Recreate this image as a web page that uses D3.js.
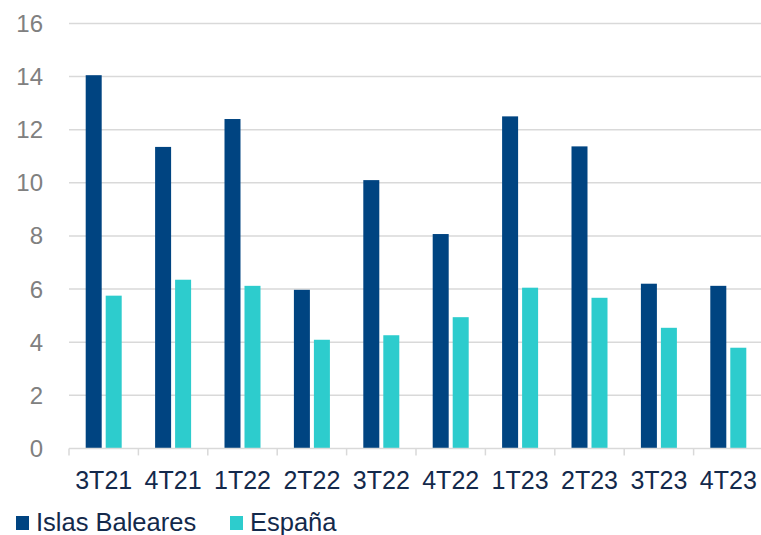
<html>
<head>
<meta charset="utf-8">
<script src="https://cdn.jsdelivr.net/npm/d3@7"></script>
<style>
  body { margin: 0; background: #fff; }
  text { font-family: "Liberation Sans", Arial, sans-serif; }
</style>
</head>
<body>
<div class="chart"></div>
<script>
var categories = ['3T21', '4T21', '1T22', '2T22', '3T22', '4T22', '1T23', '2T23', '3T23', '4T23'];
var series = ['Islas Baleares', 'España'];
var baleares = [14.05, 11.35, 12.4, 5.97, 10.1, 8.07, 12.5, 11.37, 6.2, 6.12];
var espana = [5.75, 6.35, 6.12, 4.09, 4.26, 4.94, 6.05, 5.67, 4.54, 3.79];
var yTicks = [0, 2, 4, 6, 8, 10, 12, 14, 16];
var colors = ['#004481', '#2dcccd'];

var w = 761, h = 535;
var padLeft = 69, padRight = 763, plotTop = 23.4, plotBottom = 448.4;

var svg = d3.select('div.chart').append('svg')
    .attr('width', w)
    .attr('height', h);

var x = d3.scaleBand()
    .domain(categories)
    .range([padLeft, padRight])
    .padding(0);

var xs = d3.scaleBand()
    .domain(series)
    .range([0, x.bandwidth()])
    .paddingInner(0.2)
    .paddingOuter(0.835);

var y = d3.scaleLinear()
    .domain([0, 16])
    .range([plotBottom, plotTop]);

// gridlines
svg.selectAll('line.grid')
    .data(yTicks.slice(1))
    .enter()
    .append('line')
    .attr('class', 'grid')
    .attr('x1', padLeft)
    .attr('x2', w)
    .attr('y1', function(d) { return y(d); })
    .attr('y2', function(d) { return y(d); })
    .attr('stroke', '#d9d9d9')
    .attr('stroke-width', 1.5);

// y labels
svg.selectAll('text.ylab')
    .data(yTicks)
    .enter()
    .append('text')
    .attr('class', 'ylab')
    .attr('x', 43)
    .attr('y', function(d) { return y(d) + 8.5; })
    .attr('text-anchor', 'end')
    .style('font-size', '24px')
    .style('fill', '#808080')
    .text(function(d) { return d; });

// bars
var rows = categories.map(function(c, i) {
    return { cat: c, vals: [baleares[i], espana[i]] };
});

var groups = svg.selectAll('g.cat')
    .data(rows)
    .enter()
    .append('g')
    .attr('class', 'cat')
    .attr('transform', function(d) { return 'translate(' + x(d.cat) + ',0)'; });

groups.selectAll('rect')
    .data(function(d) {
        return d.vals.map(function(v, j) { return { s: series[j], v: v, j: j }; });
    })
    .enter()
    .append('rect')
    .attr('x', function(d) { return xs(d.s); })
    .attr('width', xs.bandwidth())
    .attr('y', function(d) { return y(d.v); })
    .attr('height', function(d) { return y(0) - y(d.v); })
    .attr('fill', function(d) { return colors[d.j]; });

// x axis
var xAxis = d3.axisBottom(x).tickSize(0).tickPadding(0);
var gx = svg.append('g')
    .attr('transform', 'translate(0,' + plotBottom + ')')
    .call(xAxis);
gx.select('.domain').remove();
gx.selectAll('text')
    .attr('y', 41)
    .attr('dy', 0)
    .style('font-size', '25px')
    .style('font-family', '"Liberation Sans", Arial, sans-serif')
    .style('fill', '#13294b');

svg.append('line')
    .attr('x1', padLeft).attr('x2', w)
    .attr('y1', plotBottom).attr('y2', plotBottom)
    .attr('stroke', '#d9d9d9')
    .attr('stroke-width', 1.5);

svg.selectAll('line.tick')
    .data(categories)
    .enter()
    .append('line')
    .attr('class', 'tick')
    .attr('x1', function(d) { return x(d); })
    .attr('x2', function(d) { return x(d); })
    .attr('y1', plotBottom)
    .attr('y2', plotBottom + 7)
    .attr('stroke', '#d9d9d9')
    .attr('stroke-width', 1.5);

// legend
var legendX = [16, 230];
var leg = svg.selectAll('g.leg')
    .data(series)
    .enter()
    .append('g')
    .attr('class', 'leg')
    .attr('transform', function(d, i) { return 'translate(' + legendX[i] + ',0)'; });
leg.append('rect')
    .attr('x', 0).attr('y', 516)
    .attr('width', 13).attr('height', 14)
    .attr('fill', function(d, i) { return colors[i]; });
leg.append('text')
    .attr('x', 20).attr('y', 531)
    .style('font-size', '25.5px')
    .style('fill', '#13294b')
    .text(function(d) { return d; });
</script>
</body>
</html>
